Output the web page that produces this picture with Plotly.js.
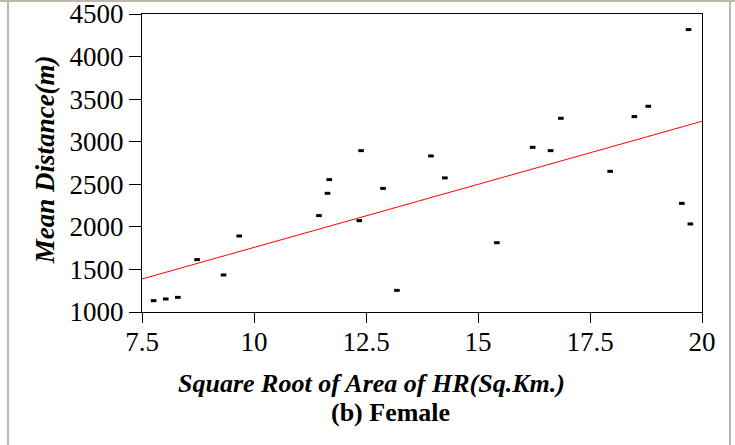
<!DOCTYPE html>
<html>
<head>
<meta charset="utf-8">
<script src="https://cdn.plot.ly/plotly-3.0.1.min.js"></script>
<style>
  html, body { margin: 0; padding: 0; background: #ffffff; }
  #wrap { position: relative; width: 735px; height: 445px; overflow: hidden; }
  #chart { position: absolute; left: 0; top: 0; width: 735px; height: 445px; }
  .edge { position: absolute; background: #bdb9a8; }
</style>
</head>
<body>
<div id="wrap">
  <div id="chart"></div>
  <div class="edge" style="left:0; top:0; width:735px; height:2px;"></div>
  <div class="edge" style="left:7px; top:2px; width:2px; height:443px;"></div>
  <div class="edge" style="left:729px; top:2px; width:2px; height:443px;"></div>
</div>
<script>
// Square root of home-range area (km) vs. mean distance (m), females
const areaSqrt = [7.76, 8.03, 8.30, 8.73, 9.32, 9.67, 11.45, 11.64, 11.68, 12.35, 12.39, 12.88, 13.19,
                  13.95, 14.26, 15.42, 16.22, 16.62, 16.85, 17.95, 18.49, 18.80, 19.55, 19.70, 19.74];
const meanDistance = [1133, 1153, 1172, 1615, 1435, 1893, 2132, 2394, 2555, 2073, 2895, 2452, 1254,
                      2833, 2575, 1814, 2934, 2895, 3275, 2652, 3295, 3416, 2276, 4317, 2034];

// Fitted regression line, end points
const fitX = [7.5, 20];
const fitY = [1388, 3240];

const xTicks = [7.5, 10, 12.5, 15, 17.5, 20];
const xTickText = ['7.5', '10', '12.5', '15', '17.5', '20'];
const yTicks = [1000, 1500, 2000, 2500, 3000, 3500, 4000, 4500];

const serif = 'Liberation Serif, Times New Roman, serif';

const traces = [
  {
    x: fitX, y: fitY, type: 'scatter', mode: 'lines',
    line: { color: '#ff0000', width: 1 },
    hoverinfo: 'skip', showlegend: false
  },
  {
    x: areaSqrt, y: meanDistance, type: 'scatter', mode: 'markers',
    marker: { symbol: 'line-ew', size: 4, color: '#000000',
              line: { color: '#000000', width: 3 } },
    showlegend: false
  }
];

const layout = {
  width: 735, height: 445,
  margin: { l: 142, r: 33, t: 14, b: 133 },
  paper_bgcolor: 'rgba(0,0,0,0)',
  plot_bgcolor: '#ffffff',
  font: { family: serif, size: 26, color: '#000000' },
  xaxis: {
    range: [7.5, 20], tickvals: xTicks, ticktext: xTickText,
    showgrid: false, zeroline: false,
    showline: true, linecolor: '#000000', linewidth: 1, mirror: true,
    ticks: 'outside', ticklen: 10, tickcolor: '#000000', tickwidth: 1,
    ticklabelstandoff: -4, ticklabeloverflow: 'allow',
    tickfont: { family: serif, size: 27, color: '#000000' }
  },
  yaxis: {
    range: [1000, 4500], tickvals: yTicks,
    showgrid: false, zeroline: false,
    showline: true, linecolor: '#000000', linewidth: 1, mirror: true,
    ticks: 'outside', ticklen: 12, tickcolor: '#000000', tickwidth: 1,
    ticklabeloverflow: 'allow',
    tickfont: { family: serif, size: 27, color: '#000000' }
  },
  annotations: [
    {
      text: '<b><i>Square Root of Area of HR(Sq.Km.)</i></b>',
      xref: 'paper', yref: 'paper', x: 0.409, y: -0.24,
      xanchor: 'center', yanchor: 'middle', showarrow: false,
      font: { family: serif, size: 26, color: '#000000' }
    },
    {
      text: '<b>(b) Female</b>',
      xref: 'paper', yref: 'paper', x: 0.443, y: -0.337,
      xanchor: 'center', yanchor: 'middle', showarrow: false,
      font: { family: serif, size: 26, color: '#000000' }
    },
    {
      text: '<b><i>Mean Distance(m)</i></b>',
      xref: 'paper', yref: 'paper', x: -0.173, y: 0.51,
      xanchor: 'center', yanchor: 'middle', showarrow: false, textangle: -90,
      font: { family: serif, size: 27, color: '#000000' }
    }
  ]
};

Plotly.newPlot('chart', traces, layout, { displayModeBar: false, staticPlot: true });
</script>
</body>
</html>
